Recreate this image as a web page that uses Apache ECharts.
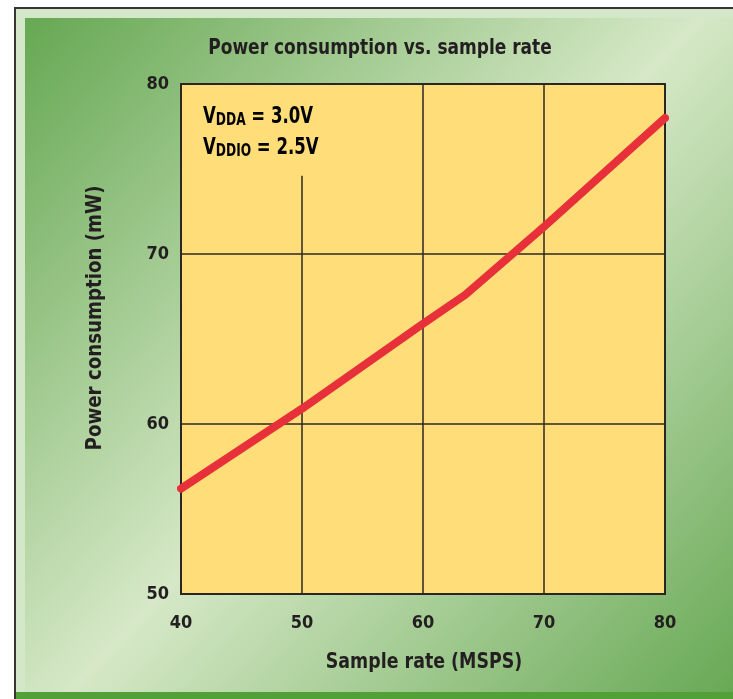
<!DOCTYPE html>
<html>
<head>
<meta charset="utf-8">
<script src="https://cdn.jsdelivr.net/npm/echarts@6/dist/echarts.min.js"></script>
<style>
html,body{margin:0;padding:0;background:#fff;}
#chart{width:733px;height:699px;}
</style>
</head>
<body>
<div id="chart"></div>
<script>
var sampleRate = [40, 50, 60, 63.5, 70, 80];
var powerMw = [56.2, 60.9, 65.9, 67.6, 71.6, 78.0];
var xTicks = [40, 50, 60, 70, 80];
var yTicks = [50, 60, 70, 80];
var titleText = 'Power consumption vs. sample rate';
var xName = 'Sample rate (MSPS)';
var yName = 'Power consumption (mW)';

var FONT = '"DejaVu Sans Condensed", "Liberation Sans Narrow", "Liberation Sans", sans-serif';
var INK = '#231f20';

var chart = echarts.init(document.getElementById('chart'), null, {renderer: 'canvas'});
var pts = sampleRate.map(function (x, i) { return [x, powerMw[i]]; });

chart.setOption({
  backgroundColor: '#ffffff',
  animation: false,
  graphic: [
    {type: 'rect', z: -10, shape: {x: 15, y: 8, width: 740, height: 690},
     style: {fill: '#d5e7c9', stroke: '#3a3532', lineWidth: 2}},
    {type: 'rect', z: -9, shape: {x: 25, y: 18, width: 720, height: 674},
     style: {fill: new echarts.graphic.LinearGradient(0, 0, 1, 1, [
       {offset: 0, color: '#66a853'},
       {offset: 0.5, color: '#d6e8c7'},
       {offset: 1, color: '#66a853'}
     ])}},
    {type: 'rect', z: -8, shape: {x: 16, y: 692, width: 730, height: 10},
     style: {fill: '#52a038'}},
    {type: 'text', z: 10, x: 380, y: 48, scaleX: 0.86, style: {
      text: titleText, x: 0, y: 0, align: 'center', verticalAlign: 'middle',
      font: 'bold 22px ' + FONT, fill: INK}},
    {type: 'text', z: 10, x: 424, y: 662, scaleX: 0.88, style: {
      text: xName, x: 0, y: 0, align: 'center', verticalAlign: 'middle',
      font: 'bold 22px ' + FONT, fill: INK}},
    {type: 'text', z: 10, x: 95, y: 318, rotation: Math.PI / 2, scaleX: 0.92, style: {
      text: yName, x: 0, y: 0, align: 'center', verticalAlign: 'middle',
      font: 'bold 22px ' + FONT, fill: INK}},
    {type: 'text', z: 10, x: 203, y: 98, scaleX: 0.8, style: {
      text: '{v|V}{s|DDA}{v| = 3.0V}\n{v|V}{s|DDIO}{v| = 2.5V}',
      rich: {
        v: {fontFamily: FONT, fontWeight: 'bold', fontSize: 23, color: INK, lineHeight: 31, verticalAlign: 'bottom'},
        s: {fontFamily: FONT, fontWeight: 'bold', fontSize: 17, color: INK, lineHeight: 27, verticalAlign: 'bottom'}
      }}}
  ],
  grid: {
    left: 181, right: 68, top: 84, bottom: 105,
    show: true, backgroundColor: '#ffde7a', borderColor: '#2b2725', borderWidth: 2
  },
  xAxis: {
    type: 'value', min: 40, max: 80, interval: 10,
    axisLine: {show: false}, axisTick: {show: false},
    splitLine: {show: true, lineStyle: {color: '#2b2725', width: 1.5}},
    axisLabel: {margin: 20, color: INK, fontFamily: FONT, fontWeight: 'bold', fontSize: 18,
      formatter: function (v) { return xTicks.indexOf(v) >= 0 ? String(v) : ''; }}
  },
  yAxis: {
    type: 'value', min: 50, max: 80, interval: 10,
    axisLine: {show: false}, axisTick: {show: false},
    splitLine: {show: true, lineStyle: {color: '#2b2725', width: 1.5}},
    axisLabel: {margin: 12, color: INK, fontFamily: FONT, fontWeight: 'bold', fontSize: 18,
      verticalAlign: 'middle',
      formatter: function (v) { return yTicks.indexOf(v) >= 0 ? String(v) : ''; }}
  },
  series: [{
    type: 'line', data: pts, symbol: 'none', smooth: false,
    lineStyle: {color: '#e8303a', width: 8, cap: 'round', join: 'round'},
    markArea: {
      silent: true,
      itemStyle: {color: '#ffde7a', borderWidth: 0},
      data: [[{coord: [40.2, 79.94]}, {coord: [52, 74.6]}]]
    }
  }]
});
</script>
</body>
</html>
